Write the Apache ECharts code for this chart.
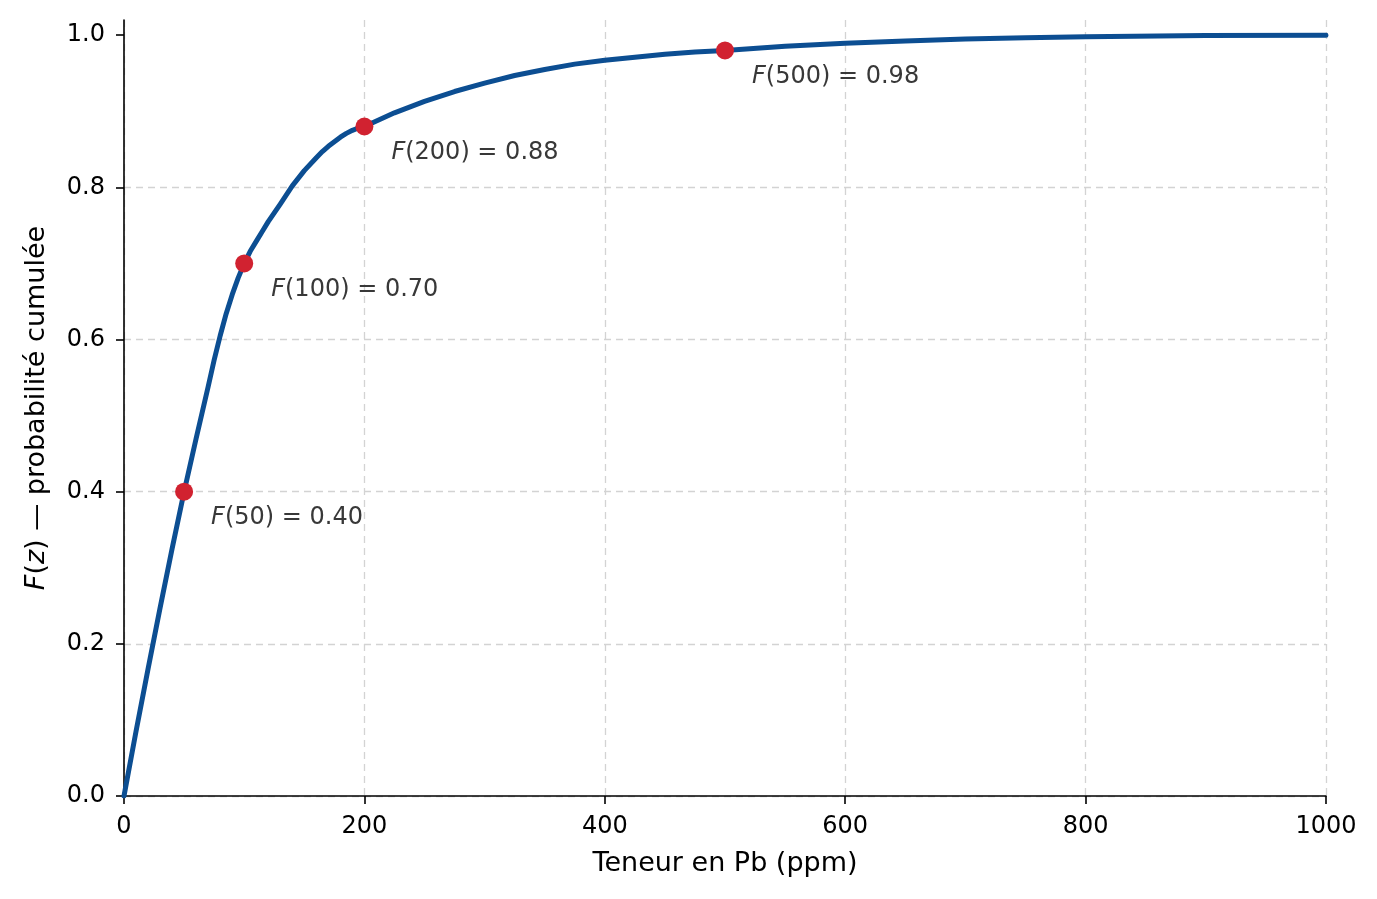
<!DOCTYPE html>
<html>
<head>
<meta charset="utf-8">
<script src="https://cdn.jsdelivr.net/npm/echarts@6/dist/echarts.min.js"></script>
<style>
  html, body { margin: 0; padding: 0; background: #fff; }
  #main { width: 1377px; height: 899px; }
</style>
</head>
<body>
<div id="main"></div>
<script>
// courbe (ppm, F)
var curveX = [0, 10, 20, 30, 40, 50, 60, 70, 75, 80, 85, 90, 95, 100, 105, 110, 115, 120, 130, 140, 150, 160, 165, 170, 180, 185, 190, 195, 200, 225, 250, 275, 300, 325, 350, 375, 400, 425, 450, 475, 500, 550, 600, 650, 700, 750, 800, 900, 1000];
var curveY = [0, 0.085, 0.167, 0.247, 0.325, 0.40, 0.47, 0.538, 0.573, 0.605, 0.634, 0.659, 0.681, 0.70, 0.716, 0.729, 0.742, 0.755, 0.778, 0.802, 0.822, 0.839, 0.847, 0.854, 0.866, 0.871, 0.875, 0.878, 0.88, 0.898, 0.913, 0.926, 0.937, 0.947, 0.955, 0.962, 0.967, 0.971, 0.975, 0.978, 0.98, 0.9855, 0.9895, 0.9925, 0.995, 0.9968, 0.998, 0.9995, 1.0];

// points marqués
var markX = [50, 100, 200, 500];
var markY = [0.40, 0.70, 0.88, 0.98];

var yTicks = [0, 0.2, 0.4, 0.6, 0.8, 1.0];

var font = 'DejaVu Sans';
var chart = echarts.init(document.getElementById('main'), null, { renderer: 'canvas' });

var curveData = curveX.map(function (x, i) { return [x, curveY[i]]; });
var markData = markX.map(function (x, i) { return [x, markY[i]]; });

var option = {
  backgroundColor: '#ffffff',
  animation: false,
  grid: { left: 124, right: 51, top: 20, bottom: 103 },
  xAxis: {
    type: 'value',
    min: 0,
    max: 1000,
    interval: 200,
    name: 'Teneur en Pb (ppm)',
    nameLocation: 'middle',
    nameGap: 54,
    nameTextStyle: { fontFamily: font, fontSize: 27, color: '#000' },
    axisLine: { lineStyle: { color: '#000', width: 1.6 } },
    axisTick: { length: 8, lineStyle: { color: '#000', width: 1.6 } },
    axisLabel: {
      fontFamily: font, fontSize: 24, color: '#000', margin: 19,
      formatter: function (v) { return String(v); }
    },
    splitLine: { show: true, lineStyle: { color: '#d3d3d3', type: [7, 5], width: 1.3 } }
  },
  yAxis: {
    type: 'value',
    min: 0,
    max: 1.02,
    interval: 0.2,
    name: '{i|F}({i|z}) — probabilité cumulée',
    nameLocation: 'middle',
    nameGap: 74,
    nameRotate: 90,
    nameTextStyle: {
      fontFamily: font, fontSize: 27, color: '#000',
      rich: { i: { fontFamily: font, fontSize: 27, fontStyle: 'italic', color: '#000' } }
    },
    axisLine: { show: true, lineStyle: { color: '#000', width: 1.6 } },
    axisTick: { show: true, length: 8, customValues: yTicks, lineStyle: { color: '#000', width: 1.6 } },
    axisLabel: {
      fontFamily: font, fontSize: 24, color: '#000', margin: 19,
      customValues: yTicks,
      formatter: function (v) { return v.toFixed(1); }
    },
    splitLine: { show: true, showMaxLine: false, lineStyle: { color: '#d3d3d3', type: [7, 5], width: 1.3 } }
  },
  series: [
    {
      type: 'line',
      data: curveData,
      smooth: false,
      showSymbol: false,
      lineStyle: { color: '#0c4e92', width: 5, join: 'round', cap: 'round' },
      z: 2
    },
    {
      type: 'scatter',
      data: markData,
      symbolSize: 18,
      itemStyle: { color: '#d12230', opacity: 1 },
      z: 3,
      label: {
        show: true,
        position: 'inside',
        align: 'left',
        verticalAlign: 'middle',
        offset: [27, 26],
        fontFamily: font,
        fontSize: 24,
        color: '#383838',
        formatter: function (p) {
          return '{i|F}(' + p.value[0] + ') = ' + p.value[1].toFixed(2);
        },
        rich: { i: { fontFamily: font, fontSize: 24, fontStyle: 'italic', color: '#383838' } }
      }
    }
  ]
};

chart.setOption(option);
</script>
</body>
</html>
